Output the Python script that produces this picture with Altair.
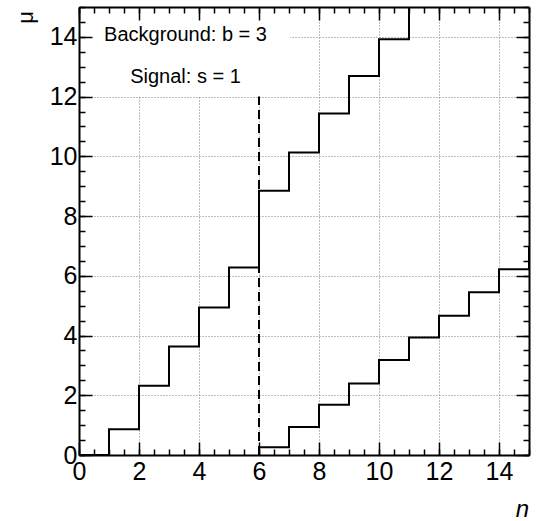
import altair as alt
import pandas as pd

# ---------------- data ----------------
n_upper = [0, 1, 2, 3, 4, 5, 6, 7, 8, 9, 10, 11]
mu_upper = [0.0, 0.86, 2.32, 3.63, 4.94, 6.28, 8.85, 10.13, 11.43, 12.69, 13.92, 15.4]
n_lower = [6, 7, 8, 9, 10, 11, 12, 13, 14, 15]
mu_lower = [0.26, 0.94, 1.68, 2.39, 3.18, 3.93, 4.66, 5.45, 6.22, 6.97]
n_observed = [6, 6]
mu_observed = [0.0, 12.0]
major_ticks = [0, 2, 4, 6, 8, 10, 12, 14]
minor_ticks = [0, 0.5, 1, 1.5, 2, 2.5, 3, 3.5, 4, 4.5, 5, 5.5, 6, 6.5, 7, 7.5,
               8, 8.5, 9, 9.5, 10, 10.5, 11, 11.5, 12, 12.5, 13, 13.5, 14, 14.5, 15]
legend_lines = ["Background: b = 3", "Signal: s = 1"]
x_title = "n"
y_title = "μ"

# ---------------- layout / style ----------------
FONT = "Liberation Sans"
W, H = 450, 448
legend_y = [34, 76]

xs = alt.Scale(domain=[0, 15], nice=False, zero=False)
ys = alt.Scale(domain=[0, 15], nice=False, zero=False)

grid_style = dict(grid=True, gridDash=[1, 2], gridColor="#7a7a7a", gridWidth=1,
                  ticks=False, domain=False, zindex=0, values=major_ticks,
                  labelFont=FONT, labelFontSize=25, labelColor="black",
                  labelOverlap=False, labelFlush=False,
                  titleFont=FONT, titleColor="black", titleFontWeight="normal")

upper_df = pd.DataFrame({"n": n_upper, "mu": mu_upper})
lower_df = pd.DataFrame({"n": n_lower, "mu": mu_lower})
obs_df = pd.DataFrame({"n": n_observed, "mu": mu_observed})
tick_df = pd.DataFrame({"v": minor_ticks})

# grid + labels + titles (carried by the upper curve)
upper = alt.Chart(upper_df).mark_line(
    interpolate="step-after", color="black", strokeWidth=2, clip=True
).encode(
    x=alt.X("n:Q", scale=xs, axis=alt.Axis(
        orient="bottom", labelPadding=4, title=x_title, titleFontSize=24,
        titleFontStyle="italic", titleX=443, titleY=54, titleAlign="center",
        titleBaseline="middle", **grid_style)),
    y=alt.Y("mu:Q", scale=ys, axis=alt.Axis(
        orient="left", labelPadding=2, labelBaseline="middle", title=y_title,
        titleFontSize=22, titleAngle=270, titleX=-54, titleY=10,
        titleAlign="center", titleBaseline="middle", **grid_style)),
)

# white legend box covering the grid
box = alt.Chart(pd.DataFrame({"label": [legend_lines[0]]})).mark_rect(
    color="white"
).encode(x=alt.value(1), x2=alt.value(211), y=alt.value(1), y2=alt.value(90))

texts = [
    alt.Chart(pd.DataFrame({"label": [txt]})).mark_text(
        font=FONT, fontSize=20, color="black", align="center", baseline="alphabetic"
    ).encode(text="label:N", x=alt.value(106.5), y=alt.value(yy))
    for txt, yy in zip(legend_lines, legend_y)
]

observed = alt.Chart(obs_df).mark_line(
    color="black", strokeWidth=2, strokeDash=[9, 5]
).encode(
    x=alt.X("n:Q", scale=xs, axis=None),
    y=alt.Y("mu:Q", scale=ys, axis=None),
)

lower = alt.Chart(lower_df).mark_line(
    interpolate="step-after", color="black", strokeWidth=2, clip=True
).encode(
    x=alt.X("n:Q", scale=xs, axis=None),
    y=alt.Y("mu:Q", scale=ys, axis=None),
)


def tick_layer(x_orient, y_orient, values, size, domain):
    common = dict(values=values, tickSize=size, tickColor="black", tickWidth=1.5,
                  labels=False, grid=False, domain=domain, domainColor="black",
                  domainWidth=2, zindex=1, title=None)
    return alt.Chart(tick_df).mark_point(opacity=0).encode(
        x=alt.X("v:Q", scale=xs, axis=alt.Axis(orient=x_orient, offset=-H, **common)),
        y=alt.Y("v:Q", scale=ys, axis=alt.Axis(orient=y_orient, offset=-W, **common)),
    )


# "top" axis pulled down to the bottom edge and "right" axis pulled to the left
# edge -> ticks point into the frame (ROOT style); and the mirrored ones.
ticks = [
    tick_layer("top", "right", minor_ticks, 6, True),
    tick_layer("top", "right", major_ticks, 13, False),
    tick_layer("bottom", "left", minor_ticks, 6, True),
    tick_layer("bottom", "left", major_ticks, 13, False),
]

chart = alt.layer(
    upper, box, *texts, observed, lower, *ticks
).resolve_axis(
    x="independent", y="independent"
).properties(
    width=W, height=H,
    autosize=alt.AutoSizeParams(type="none"),
    padding={"left": 79, "top": 7, "right": 8, "bottom": 66},
    background="white",
).configure_view(stroke=None)

chart.save("out.html", embed_options={"renderer": "svg", "actions": False})
